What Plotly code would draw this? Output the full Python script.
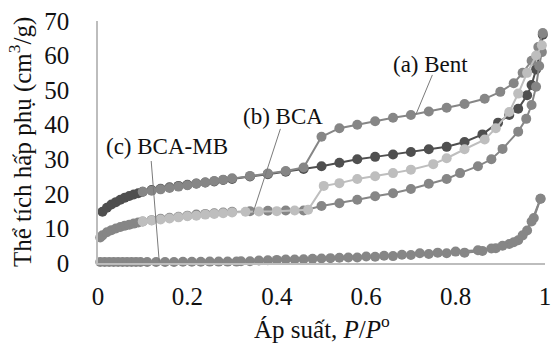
import plotly.graph_objects as go

# Relative pressure P/P0 and adsorbed volume (cm3/g) for each branch
bent_ads_p = [0.01, 0.02, 0.03, 0.04, 0.05, 0.06, 0.07, 0.08, 0.09, 0.10, 0.12, 0.14, 0.16, 0.18,
              0.20, 0.22, 0.24, 0.26, 0.28, 0.30, 0.34, 0.38, 0.42, 0.46, 0.50, 0.54, 0.58, 0.62,
              0.66, 0.70, 0.74, 0.78, 0.82, 0.86, 0.895, 0.92, 0.94, 0.96, 0.97, 0.98, 0.99, 0.995]
bent_ads_v = [14.8, 16.0, 16.9, 17.6, 18.3, 18.9, 19.4, 19.8, 20.2, 20.6, 21.1, 21.5, 21.9, 22.3,
              22.6, 23.0, 23.3, 23.6, 24.0, 24.3, 25.0, 25.7, 26.4, 27.2, 28.0, 29.0, 30.0, 30.7,
              31.4, 32.1, 32.9, 33.6, 35.0, 37.2, 40.6, 42.8, 44.6, 48.5, 51.5, 56.0, 61.5, 66.0]

bent_des_p = [0.995, 0.985, 0.97, 0.95, 0.93, 0.90, 0.865, 0.82, 0.78, 0.74, 0.70, 0.66, 0.62, 0.58,
              0.54, 0.50, 0.46, 0.42, 0.38, 0.34, 0.30, 0.28, 0.26, 0.24, 0.22, 0.20, 0.18, 0.16,
              0.14, 0.12, 0.10]
bent_des_v = [66.5, 62.5, 58.5, 55.0, 52.0, 49.5, 47.5, 46.0, 44.9, 43.8, 42.8, 42.0, 41.0, 40.0,
              39.0, 36.5, 27.6, 26.6, 25.9, 25.2, 24.5, 24.1, 23.7, 23.3, 22.9, 22.5, 22.1, 21.7,
              21.3, 20.9, 20.6]

bca_ads_p = [0.005, 0.01, 0.02, 0.03, 0.04, 0.05, 0.06, 0.07, 0.08, 0.09, 0.10, 0.12, 0.14, 0.16,
             0.18, 0.20, 0.22, 0.24, 0.26, 0.28, 0.30, 0.34, 0.38, 0.42, 0.46, 0.50, 0.54, 0.58,
             0.62, 0.66, 0.70, 0.74, 0.78, 0.81, 0.85, 0.88, 0.905, 0.94, 0.958, 0.97, 0.98,
             0.987, 0.993]
bca_ads_v = [7.4, 8.0, 8.9, 9.5, 10.0, 10.4, 10.8, 11.1, 11.4, 11.7, 12.0, 12.4, 12.8, 13.1,
             13.4, 13.7, 14.0, 14.2, 14.4, 14.6, 14.8, 15.0, 15.1, 15.2, 15.2, 16.5, 17.3, 18.3,
             19.3, 20.2, 21.4, 22.9, 24.3, 26.0, 28.0, 30.0, 33.0, 38.0, 41.7, 45.7, 51.0,
             57.0, 61.0]

bca_des_p = [0.993, 0.98, 0.96, 0.94, 0.92, 0.89, 0.865, 0.82, 0.78, 0.75, 0.70, 0.66, 0.62, 0.58,
             0.54, 0.505, 0.47, 0.44, 0.40, 0.36, 0.33, 0.30, 0.28, 0.26, 0.24, 0.22, 0.20, 0.18,
             0.16, 0.14, 0.12, 0.10]
bca_des_v = [63.0, 60.0, 55.0, 49.0, 43.7, 39.0, 35.7, 32.9, 30.3, 28.6, 27.0, 26.0, 25.1, 24.3,
             23.1, 22.3, 15.4, 15.2, 15.0, 14.9, 14.8, 14.6, 14.4, 14.2, 14.0, 13.7, 13.5, 13.2,
             12.9, 12.6, 12.3, 12.0]

mb_ads_p = [0.005, 0.015, 0.025, 0.035, 0.045, 0.055, 0.065, 0.075, 0.085, 0.095, 0.11, 0.13,
            0.15, 0.17, 0.19, 0.21, 0.23, 0.25, 0.27, 0.29, 0.31, 0.34, 0.38, 0.42, 0.46, 0.50,
            0.54, 0.58, 0.62, 0.66, 0.70, 0.74, 0.78, 0.82, 0.86, 0.89, 0.92, 0.94, 0.96, 0.975,
            0.99]
mb_ads_v = [0.3, 0.3, 0.3, 0.3, 0.3, 0.3, 0.3, 0.3, 0.3, 0.3, 0.3, 0.3,
            0.3, 0.3, 0.35, 0.35, 0.35, 0.4, 0.4, 0.4, 0.4, 0.5, 0.8, 1.0, 1.1, 1.3,
            1.5, 1.6, 1.8, 2.0, 2.3, 2.6, 2.8, 3.0, 3.5, 4.3, 5.5, 6.6, 9.4, 13.0,
            18.6]

mb_des_p = [0.99, 0.97, 0.95, 0.93, 0.905, 0.88, 0.85, 0.80, 0.76, 0.72, 0.68, 0.64, 0.60,
            0.56, 0.52, 0.48, 0.44, 0.40, 0.36, 0.32]
mb_des_v = [18.6, 12.0, 8.0, 6.0, 5.0, 4.2, 3.7, 3.3, 3.0, 2.8, 2.4, 2.1, 1.9,
            1.6, 1.4, 1.2, 1.0, 0.9, 0.7, 0.5]

DARK = "#4f4f4f"
MID = "#868686"
LIGHT = "#bebebe"

x_ticks = [0, 0.2, 0.4, 0.6, 0.8, 1]
x_tick_text = ["0", "0.2", "0.4", "0.6", "0.8", "1"]
y_ticks = [0, 10, 20, 30, 40, 50, 60, 70]

series = [
    (bent_ads_p, bent_ads_v, DARK),
    (bent_des_p, bent_des_v, MID),
    (bca_ads_p, bca_ads_v, MID),
    (bca_des_p, bca_des_v, LIGHT),
    (mb_ads_p, mb_ads_v, MID),
    (mb_des_p, mb_des_v, MID),
]

fig = go.Figure()
for px, vy, col in series:
    fig.add_trace(go.Scatter(
        x=px, y=vy, mode="lines+markers",
        line=dict(color=col, width=2),
        marker=dict(color=col, size=10),
        cliponaxis=False, showlegend=False,
    ))

SERIF = "Liberation Serif"

# labels with leader lines: (text, text position, line start, line end)
labels = [
    ("(a) Bent", (0.744, 57.5), (0.748, 54.4), (0.711, 42.9)),
    ("(b) BCA", (0.413, 42.3), (0.408, 38.8), (0.347, 14.6)),
    ("(c) BCA-MB", (0.155, 33.7), (0.119, 29.5), (0.137, 0.4)),
]
for text, (tx, ty), (x0, y0), (x1, y1) in labels:
    fig.add_shape(type="line", x0=x0, y0=y0, x1=x1, y1=y1,
                  line=dict(color="#7a7a7a", width=1))
    fig.add_annotation(x=tx, y=ty, text=text, showarrow=False,
                       xanchor="center", yanchor="middle",
                       font=dict(family=SERIF, size=23, color="#111111"))

# axis titles
fig.add_annotation(xref="paper", yref="paper", x=0.5, y=0, yshift=-64,
                   xanchor="center", yanchor="middle",
                   text="Áp suất, <i>P</i>/<i>P</i><sup>o</sup>", showarrow=False,
                   font=dict(family=SERIF, size=25, color="#111111"))
fig.add_annotation(xref="paper", yref="paper", x=0, y=0.5, xshift=-78,
                   xanchor="center", yanchor="middle",
                   text="Thể tích hấp phụ (cm<sup>3</sup>/g)", textangle=-90,
                   showarrow=False, font=dict(family=SERIF, size=25, color="#111111"))

fig.update_xaxes(range=[0, 1], tickvals=x_ticks, ticktext=x_tick_text,
                 showgrid=False, zeroline=False, showline=True,
                 linecolor="#bdbdbd", linewidth=1.5, ticks="",
                 ticklabelstandoff=10,
                 tickfont=dict(family=SERIF, size=25, color="#111111"))
fig.update_yaxes(range=[0, 70], tickvals=y_ticks, showgrid=False, zeroline=False,
                 showline=True, linecolor="#bdbdbd", linewidth=1.5, ticks="",
                 ticklabelstandoff=22,
                 tickfont=dict(family=SERIF, size=25, color="#111111"))

fig.update_layout(
    width=559, height=347,
    margin=dict(l=98, r=8, t=18, b=84),
    plot_bgcolor="white", paper_bgcolor="white",
)

fig.write_html("out.html")
